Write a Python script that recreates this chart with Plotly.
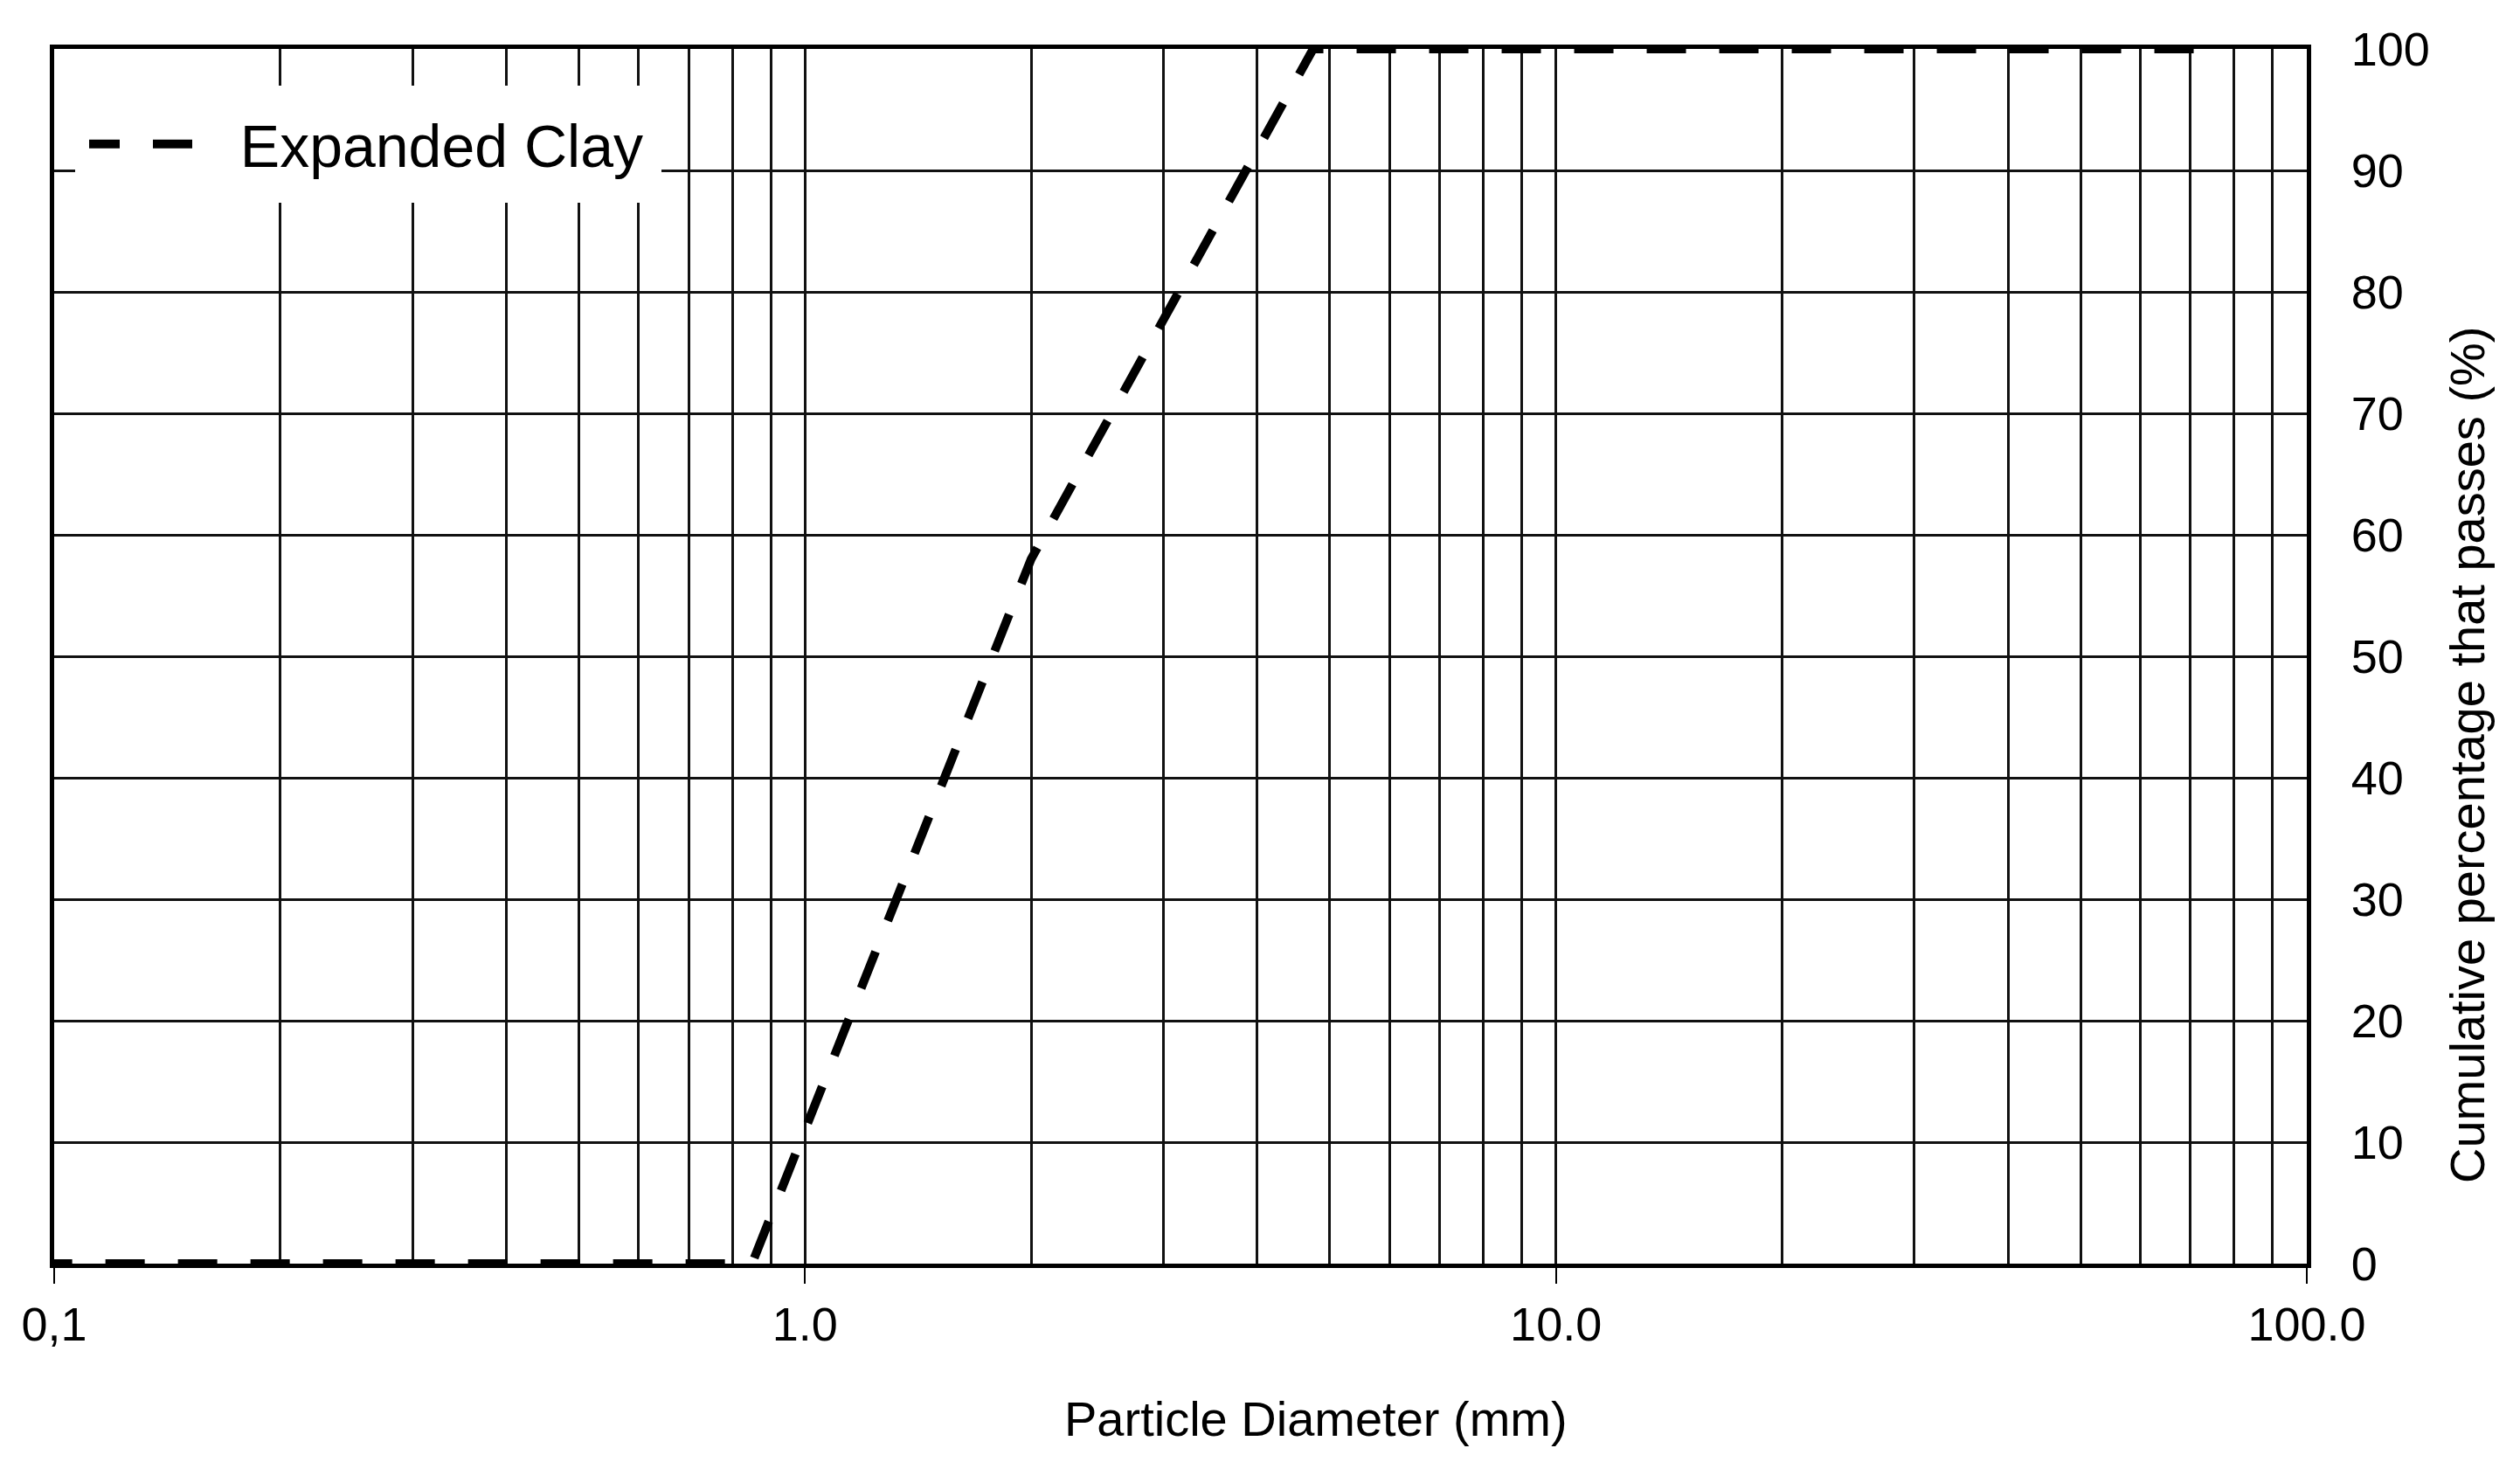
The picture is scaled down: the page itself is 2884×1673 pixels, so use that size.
import plotly.graph_objects as go

# sieve sizes (mm) and cumulative % passing
diameter_mm = [0.075, 0.15, 0.3, 0.6, 0.85, 2.0, 4.75, 9.5, 19.0, 37.5, 76.0]
passing_pct = [0, 0, 0, 0, 0, 58, 100, 100, 100, 100, 100]
series_name = "Expanded Clay"

x_tickvals = [0.1, 1, 10, 100]
x_ticktext = ["0,1", "1.0", "10.0", "100.0"]
x_minor = [m * 10 ** e for e in (-1, 0, 1) for m in range(2, 10)]
y_tickvals = list(range(0, 101, 10))

FONT = "Liberation Sans, Arial, sans-serif"
OFF = 8  # default body margin of the html page
FIG_W, FIG_H = 2884 - 2 * OFF, 1673 - 2 * OFF
# plot area in figure pixels
L, R, T, B = 62 - OFF, 2640 - OFF, 56 - OFF, 1446 - OFF
W, H = R - L, B - T

fig = go.Figure()
fig.add_trace(go.Scatter(
    x=diameter_mm, y=passing_pct, name="\u00a0\u00a0" + series_name, mode="lines",
    line=dict(color="black", width=10, dash="45px,38px"),
))

fig.update_xaxes(
    type="log", range=[-1, 2], automargin=False,
    tickvals=x_tickvals, ticktext=x_ticktext,
    ticks="outside", ticklen=18, tickwidth=2, tickcolor="black",
    showgrid=True, gridcolor="#111", gridwidth=3,
    minor=dict(tickvals=x_minor, showgrid=True, gridcolor="#111", gridwidth=3, ticks=""),
    showline=True, linecolor="black", linewidth=5, mirror=True,
    tickfont=dict(family=FONT, size=54, color="black"),
    zeroline=False,
)
fig.update_yaxes(
    side="right", range=[0, 100], tickvals=y_tickvals, automargin=False,
    ticks="", ticklabelstandoff=35,
    showgrid=True, gridcolor="#111", gridwidth=3,
    showline=True, linecolor="black", linewidth=5, mirror=True,
    tickfont=dict(family=FONT, size=54, color="black"),
    zeroline=False,
)

fig.add_annotation(
    text="Particle Diameter (mm)", xref="paper", yref="paper",
    x=(1506 - OFF - L) / W, y=-(1623 - OFF - B) / H,
    showarrow=False, font=dict(family=FONT, size=56, color="black"),
    xanchor="center", yanchor="middle",
)
fig.add_annotation(
    text="Cumulative percentage that passes (%)", xref="paper", yref="paper",
    x=(2823 - OFF - L) / W, y=1 - (864 - OFF - T) / H, textangle=-90,
    showarrow=False, font=dict(family=FONT, size=56, color="black"),
    xanchor="center", yanchor="middle",
)

fig.update_layout(
    width=FIG_W, height=FIG_H,
    margin=dict(l=L, r=FIG_W - R, t=T, b=FIG_H - B, autoexpand=False),
    plot_bgcolor="white", paper_bgcolor="white",
    showlegend=True,
    legend=dict(
        x=(86 - OFF - L) / W, y=1 - (98 - OFF - T) / H, xanchor="left", yanchor="top",
        bgcolor="white", bordercolor="white", borderwidth=16,
        font=dict(family=FONT, size=68, color="black"),
        itemwidth=140, indentation=-15,
    ),
)

fig.write_html("out.html")
